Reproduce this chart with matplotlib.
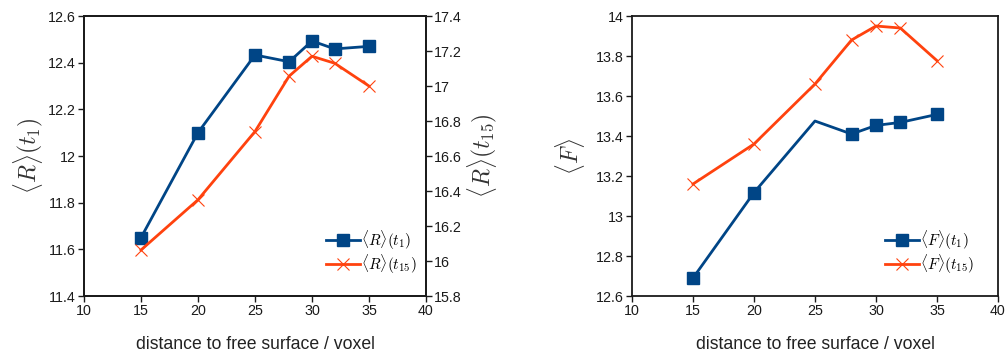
import numpy as np
from matplotlib import pyplot as plt

plt.rcParams['font.family'] = ['Liberation Sans', 'DejaVu Sans']
plt.rcParams['mathtext.fontset'] = 'cm'

# distance to free surface (voxel)
dist = [15, 20, 25, 28, 30, 32, 35]

# mean radius at t1 (left axis) and t15 (right axis)
r_t1 = [11.65, 12.10, 12.433, 12.404, 12.493, 12.459, 12.47]
r_t15 = [16.063, 16.35, 16.74, 17.057, 17.17, 17.13, 17.0]

# mean F at t1 and t15
f_t1 = [12.69, 13.117, 13.475, 13.41, 13.453, 13.468, 13.508]
f_t15 = [13.16, 13.36, 13.66, 13.88, 13.95, 13.94, 13.777]

blue = '#004586'
orange = '#ff420e'
spine_col = '#1a1a1a'


def style_axes(ax):
    for s in ax.spines.values():
        s.set_color(spine_col)
        s.set_linewidth(1.3)
    ax.tick_params(direction='out', length=4, width=1.0, labelsize=10.3,
                   colors=spine_col, pad=2)


def add_legend(ax, handles, x_anchor):
    ax.legend(handles=handles, loc='lower right',
              bbox_to_anchor=(x_anchor, 0.04), frameon=False, fontsize=11,
              handlelength=2.2, handletextpad=0.1, labelspacing=0.05,
              borderaxespad=0.2)


fig = plt.figure(figsize=(10.07, 3.52), dpi=100)

# left panel: <R>
ax1 = fig.add_axes([0.0834, 0.159, 0.3396, 0.7955])
ax2 = ax1.twinx()
l1, = ax1.plot(dist, r_t1, color=blue, lw=2.0, marker='s', ms=8,
               label=r'$\langle R\rangle(t_1)$')
l2, = ax2.plot(dist, r_t15, color=orange, lw=2.0, marker='x', ms=8, mew=0.8,
               label=r'$\langle R\rangle(t_{15})$')
ax1.set_xlim(10, 40)
ax1.set_ylim(11.4, 12.6)
ax2.set_ylim(15.8, 17.4)
ax1.set_xticks(np.arange(10, 41, 5))
ax1.set_yticks(np.arange(11.4, 12.61, 0.2))
ax2.set_yticks(np.arange(15.8, 17.41, 0.2))
ax1.set_yticklabels(['11.4', '11.6', '11.8', '12', '12.2', '12.4', '12.6'])
ax2.set_yticklabels(['15.8', '16', '16.2', '16.4', '16.6', '16.8', '17',
                     '17.2', '17.4'])
style_axes(ax1)
style_axes(ax2)
ax1.set_xlabel('distance to free surface / voxel', fontsize=12.7,
               labelpad=13, color='#222222')
ax1.set_ylabel(r'$\langle R\rangle(t_1)$', fontsize=17, color='#333333',
               labelpad=2)
ax2.set_ylabel(r'$\langle R\rangle(t_{15})$', fontsize=17, color='#333333',
               labelpad=2)
add_legend(ax1, [l1, l2], 1.0)

# right panel: <F>
ax3 = fig.add_axes([0.6276, 0.159, 0.3634, 0.7955])
l3, = ax3.plot(dist, f_t1, color=blue, lw=2.0, marker='s', ms=8,
               markevery=[0, 1, 3, 4, 5, 6], label=r'$\langle F\rangle(t_1)$')
l4, = ax3.plot(dist, f_t15, color=orange, lw=2.0, marker='x', ms=8, mew=0.8,
               label=r'$\langle F\rangle(t_{15})$')
ax3.set_xlim(10, 40)
ax3.set_ylim(12.6, 14)
ax3.set_xticks(np.arange(10, 41, 5))
ax3.set_yticks(np.arange(12.6, 14.01, 0.2))
ax3.set_yticklabels(['12.6', '12.8', '13', '13.2', '13.4', '13.6', '13.8', '14'])
style_axes(ax3)
ax3.set_xlabel('distance to free surface / voxel', fontsize=12.7,
               labelpad=13, color='#222222')
ax3.set_ylabel(r'$\langle F\rangle$', fontsize=17, color='#333333', labelpad=6)
add_legend(ax3, [l3, l4], 0.96)

plt.savefig('out.png', dpi=100)
plt.close()
